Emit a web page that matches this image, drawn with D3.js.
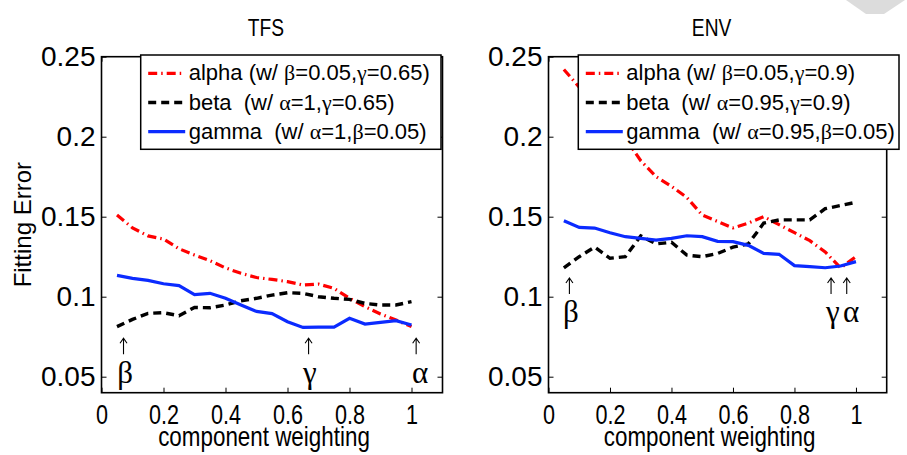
<!DOCTYPE html>
<html lang="en">
<head>
<meta charset="UTF-8">
<title>Fitting Error</title>
<script src="https://cdn.jsdelivr.net/npm/d3@7"></script>
<style>
  body{margin:0;background:#fff;}
  text{white-space:pre;}
</style>
</head>
<body>
<script>
// component weights on the x axis
var weights=[0.05,0.10,0.15,0.20,0.25,0.30,0.35,0.40,0.45,0.50,0.55,0.60,0.65,0.70,0.75,0.80,0.85,0.90,0.95,1.00];
var xTicks=[0,0.2,0.4,0.6,0.8,1];
var yTicks=[0.05,0.1,0.15,0.2,0.25];
var titles=["TFS","ENV"];

// TFS panel
var tfsAlpha=[0.151,0.143,0.138,0.136,0.130,0.126,0.1225,0.118,0.1146,0.112,0.1108,0.1094,0.1073,0.1079,0.1052,0.099,0.0938,0.0892,0.0854,0.0813];
var tfsBeta =[0.0813,0.0858,0.0896,0.090,0.0881,0.0933,0.0931,0.0948,0.0975,0.099,0.101,0.1025,0.1021,0.100,0.099,0.0983,0.0958,0.0948,0.0948,0.0969];
var tfsGamma=[0.1133,0.1115,0.1102,0.1081,0.1069,0.1013,0.1021,0.099,0.0948,0.0908,0.0894,0.0844,0.0808,0.081,0.081,0.0865,0.0829,0.084,0.085,0.0823];
var tfsLegend=["alpha (w/ β=0.05,γ=0.65)","beta  (w/ α=1,γ=0.65)","gamma  (w/ α=1,β=0.05)"];
// arrows point at the chosen weight, letters sit below them
var tfsArrows=[0.071,0.668,1.015];
var tfsLetters=[{x:0.076,t:"β"},{x:0.672,t:"γ"},{x:1.028,t:"α"}];
var tfsNoteY={arrow:0.064,letter:0.046};

// ENV panel
var envAlpha=[0.242,0.231,0.221,0.211,0.199,0.185,0.175,0.169,0.162,0.151,0.147,0.143,0.146,0.150,0.145,0.140,0.135,0.128,0.118,0.125];
var envBeta =[0.118,0.125,0.131,0.124,0.125,0.138,0.133,0.134,0.126,0.125,0.127,0.131,0.133,0.146,0.148,0.148,0.148,0.155,0.157,0.159];
var envGamma=[0.1475,0.1433,0.1429,0.140,0.1375,0.1365,0.1354,0.1365,0.1381,0.1375,0.1346,0.1344,0.1321,0.1271,0.1265,0.1194,0.1188,0.1181,0.1192,0.1219];
var envLegend=["alpha (w/ β=0.05,γ=0.9)","beta  (w/ α=0.95,γ=0.9)","gamma  (w/ α=0.95,β=0.05)"];
var envArrows=[0.068,0.919,0.970];
var envLetters=[{x:0.073,t:"β"},{x:0.925,t:"γ"},{x:0.984,t:"α"}];
var envNoteY={arrow:0.1017,letter:0.0841};

var width=907, height=455;
var plotTop=56.7, plotBottom=392.7;
var sans="'Liberation Sans', Arial, sans-serif";
var serif="'Liberation Serif', 'Times New Roman', serif";
var narrowK=0.8;   // matlab labels look condensed

var styles=[
  {color:"#ff0000", dash:"9,4,1.5,4", w:3.2},
  {color:"#000000", dash:"8,5", w:3.4},
  {color:"#0b2bff", dash:null, w:3.2}
];

var panels=[
  {title:titles[0], left:101.5, right:442.5, series:[tfsAlpha,tfsBeta,tfsGamma], legend:tfsLegend,
   arrows:tfsArrows, letters:tfsLetters, noteY:tfsNoteY, box:{x:140.7,w:300.3}},
  {title:titles[1], left:548.5, right:886.7, series:[envAlpha,envBeta,envGamma], legend:envLegend,
   arrows:envArrows, letters:envLetters, noteY:envNoteY, box:{x:578.3,w:320.7}}
];

// squeeze a text horizontally while keeping its box honest
function condense(sel){
  sel.each(function(){
    var len=this.getComputedTextLength();
    d3.select(this).attr("textLength",len*narrowK).attr("lengthAdjust","spacingAndGlyphs");
  });
}

var svg=d3.select("body").append("svg").attr("width",width).attr("height",height);

// grey corner decoration seen in the source picture
svg.append("path").attr("d","M846,0L905,0L884,14L866,14Z").attr("fill","#dcdcdc");

// y axis label
svg.append("text")
   .attr("transform","translate(31,"+((plotTop+plotBottom)/2)+") rotate(-90)")
   .attr("text-anchor","middle")
   .attr("font-family",sans).attr("font-size",24)
   .text("Fitting Error");

var yScale=d3.scaleLinear().domain([0.04,0.25]).range([plotBottom,plotTop]);

panels.forEach(function(p){
  var xScale=d3.scaleLinear().domain([0,1.1]).range([p.left,p.right]);
  var g=svg.append("g");

  // ticks (inside) and labels
  var ya=g.append("g").attr("transform","translate("+p.left+",0)")
    .call(d3.axisLeft(yScale).tickValues(yTicks).tickSize(-5).tickPadding(6).tickFormat(function(d){return String(d);}));
  ya.selectAll("text").attr("font-family",sans).attr("font-size",28).attr("fill","#000");
  var xa=g.append("g").attr("transform","translate(0,"+plotBottom+")")
    .call(d3.axisBottom(xScale).tickValues(xTicks).tickSize(-5).tickPadding(12).tickFormat(function(d){return String(d);}));
  xa.selectAll("text").attr("font-family",sans).attr("font-size",27).attr("fill","#000").call(condense);
  g.append("g").attr("transform","translate("+p.right+",0)")
    .call(d3.axisRight(yScale).tickValues(yTicks).tickSize(-5).tickFormat(""));
  g.append("g").attr("transform","translate(0,"+plotTop+")")
    .call(d3.axisTop(xScale).tickValues(xTicks).tickSize(-5).tickFormat(""));
  g.selectAll(".domain").remove();
  g.selectAll(".tick line").attr("stroke","#000").attr("stroke-width",1);

  // data lines
  var line=d3.line().x(function(d,i){return xScale(weights[i]);}).y(function(d){return yScale(d);});
  p.series.forEach(function(s,i){
    g.append("path").datum(s)
      .attr("d",line)
      .attr("fill","none")
      .attr("stroke",styles[i].color)
      .attr("stroke-width",styles[i].w)
      .attr("stroke-dasharray",styles[i].dash);
  });

  // frame
  g.append("rect").attr("x",p.left).attr("y",plotTop)
    .attr("width",p.right-p.left).attr("height",plotBottom-plotTop)
    .attr("fill","none").attr("stroke","#000").attr("stroke-width",1.6);

  // annotation arrows
  p.arrows.forEach(function(ax){
    var cx=xScale(ax), by=yScale(p.noteY.arrow), ty=by-16;
    g.append("path")
      .attr("d","M"+cx+","+by+"V"+ty+"M"+(cx-3.5)+","+(ty+5)+"L"+cx+","+ty+"L"+(cx+3.5)+","+(ty+5))
      .attr("fill","none").attr("stroke","#000").attr("stroke-width",1.1);
  });
  // annotation letters
  p.letters.forEach(function(n){
    g.append("text")
      .attr("x",xScale(n.x)).attr("y",yScale(p.noteY.letter))
      .attr("text-anchor","middle")
      .attr("font-family",serif).attr("font-size",31).attr("fill","#000")
      .text(n.t);
  });

  // title and x label
  g.append("text").attr("x",(p.left+p.right)/2-6).attr("y",36)
    .attr("text-anchor","middle").attr("font-family",sans).attr("font-size",24).text(p.title).call(condense);
  g.append("text").attr("x",(p.left+p.right)/2-8).attr("y",446)
    .attr("text-anchor","middle").attr("font-family",sans).attr("font-size",28).text("component weighting").call(condense);

  // legend
  var lg=g.append("g");
  lg.append("rect").attr("x",p.box.x).attr("y",55).attr("width",p.box.w).attr("height",94.3)
    .attr("fill","#fff").attr("stroke","#000").attr("stroke-width",1.5);
  p.legend.forEach(function(lab,i){
    var ly=73.3+i*29.2;
    lg.append("line").attr("x1",p.box.x+7.5).attr("x2",p.box.x+44.5)
      .attr("y1",ly).attr("y2",ly)
      .attr("stroke",styles[i].color).attr("stroke-width",styles[i].w)
      .attr("stroke-dasharray",styles[i].dash);
    var t=lg.append("text").attr("x",p.box.x+48).attr("y",ly+7)
      .attr("font-family",sans).attr("font-size",22).attr("fill","#000");
    lab.split(/([αβγ])/).forEach(function(part){
      if(part==="") return;
      t.append("tspan").attr("font-family",/[αβγ]/.test(part)?serif:sans).text(part);
    });
  });
});
</script>
</body>
</html>
